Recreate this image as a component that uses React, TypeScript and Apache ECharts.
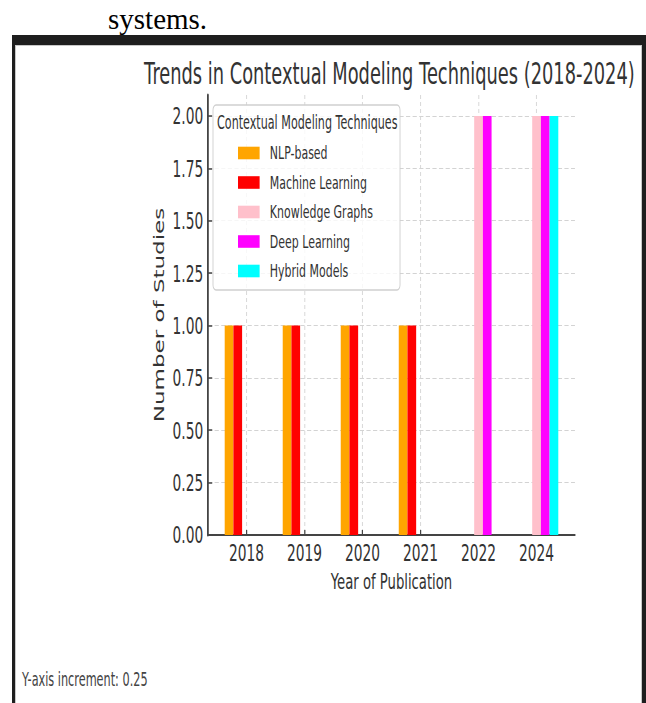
import React, { useEffect, useRef } from 'react';
import * as echarts from 'echarts';

// ---- data ----
const years = ['2018', '2019', '2020', '2021', '2022', '2024'];
const techniques = ['NLP-based', 'Machine Learning', 'Knowledge Graphs', 'Deep Learning', 'Hybrid Models'];
const nlpBased = [1, 1, 1, 1, 0, 0];
const machineLearning = [1, 1, 1, 1, 0, 0];
const knowledgeGraphs = [0, 0, 0, 0, 2, 2];
const deepLearning = [0, 0, 0, 0, 2, 2];
const hybridModels = [0, 0, 0, 0, 0, 2];
const seriesValues = [nlpBased, machineLearning, knowledgeGraphs, deepLearning, hybridModels];
const seriesColors = ['#FFA500', '#FF0000', '#FFC0CB', '#FF00FF', '#00FFFF'];
const yTicks = [0, 0.25, 0.5, 0.75, 1, 1.25, 1.5, 1.75, 2];
const xTickPositions = years.map((_, i) => i);

// ---- layout (virtual coordinates; the chart is squeezed horizontally) ----
const SQUEEZE = 0.6;
const VW = 1045;
const VH = 657;
const FONT = "'DejaVu Sans', 'Noto Sans', sans-serif";

function buildOption() {
  return {
    animation: false,
    backgroundColor: 'transparent',
    title: {
      text: 'Trends in Contextual Modeling Techniques (2018-2024)',
      left: 624,
      top: 13,
      textAlign: 'center',
      padding: 0,
      textStyle: { fontFamily: FONT, fontSize: 29.7, fontWeight: 'normal', color: '#333' },
    },
    grid: { left: 321.7, right: 111.7, top: 49, bottom: 168, containLabel: false, outerBoundsMode: 'none' },
    legend: {
      orient: 'vertical',
      left: 371.7,
      top: 98,
      padding: 0,
      icon: 'rect',
      itemWidth: 36,
      itemHeight: 12.6,
      itemGap: 11.5,
      selectedMode: false,
      data: techniques,
      itemStyle: { borderWidth: 0 },
      textStyle: { fontFamily: FONT, fontSize: 18.3, color: '#333', lineHeight: 18, padding: [0, 0, 0, 12] },
      z: 6,
    },
    xAxis: {
      type: 'value',
      min: -0.6625,
      max: 5.6625,
      name: 'Year of Publication',
      nameLocation: 'middle',
      nameGap: 35,
      nameTextStyle: { fontFamily: FONT, fontSize: 22, color: '#333' },
      axisLine: { show: true, onZero: false, lineStyle: { color: '#444', width: 2 } },
      axisTick: { show: true, inside: true, length: 5, customValues: xTickPositions, lineStyle: { color: '#444', width: 2 } },
      axisLabel: {
        customValues: xTickPositions,
        formatter: (v: number) => years[Math.round(v)],
        fontFamily: FONT,
        fontSize: 23,
        color: '#333',
        margin: 6,
      },
      splitLine: { show: true, lineStyle: { color: '#d4d4d4', type: [4, 3], width: 1.5 } },
    },
    yAxis: {
      type: 'value',
      min: 0,
      max: 2.1,
      name: 'Number of Studies',
      nameLocation: 'middle',
      nameGap: 63,
      nameTextStyle: { fontFamily: FONT, fontSize: 23, color: '#333' },
      axisLine: { show: true, onZero: false, lineStyle: { color: '#444', width: 3 } },
      axisTick: { show: true, inside: true, length: 7, customValues: yTicks, lineStyle: { color: '#444', width: 1.5 } },
      axisLabel: {
        customValues: yTicks,
        formatter: (v: number) => v.toFixed(2),
        fontFamily: FONT,
        fontSize: 23,
        color: '#333',
        margin: 8,
      },
      splitLine: { show: true, lineStyle: { color: '#c8c8c8', type: [7, 4], width: 1 } },
    },
    graphic: [
      {
        type: 'rect',
        z: 3,
        shape: { x: 330, y: 59, width: 311.7, height: 185, r: 5 },
        style: { fill: 'rgba(255,255,255,0.8)', stroke: '#cfcfcf', lineWidth: 1.5 },
      },
      {
        type: 'text',
        z: 5,
        x: 336.7,
        y: 77,
        style: {
          text: 'Contextual Modeling Techniques',
          fontFamily: FONT,
          fontSize: 18.6,
          fill: '#333',
          align: 'left',
          verticalAlign: 'middle',
          textAlign: 'left',
          textVerticalAlign: 'middle',
        },
      },
      {
        type: 'text',
        z: 5,
        x: 11.7,
        y: 634,
        style: {
          text: 'Y-axis increment: 0.25',
          fontFamily: FONT,
          fontSize: 18.8,
          fill: '#444',
          align: 'left',
          verticalAlign: 'middle',
          textAlign: 'left',
          textVerticalAlign: 'middle',
        },
      },
    ],
    series: techniques.map((name, s) => ({
      name,
      type: 'bar',
      barWidth: 14.5,
      barGap: '0%',
      itemStyle: { color: seriesColors[s], borderWidth: 0 },
      emphasis: { disabled: true },
      data: seriesValues[s].map((v, i) => [i, v]),
      z: 2,
    })),
  };
}

export default function App() {
  const ref = useRef<HTMLDivElement>(null);
  useEffect(() => {
    if (!ref.current) return;
    const chart = echarts.init(ref.current, null, { renderer: 'svg' });
    chart.setOption(buildOption() as any);
    return () => chart.dispose();
  }, []);
  return (
    <div style={{ position: 'fixed', left: 0, top: 0, width: 646, height: 703, overflow: 'hidden', background: '#fff' }}>
      <div
        style={{
          position: 'absolute',
          left: 108,
          top: 5,
          fontFamily: "'Liberation Serif', 'Times New Roman', serif",
          fontSize: 29,
          lineHeight: '29px',
          color: '#000',
          whiteSpace: 'nowrap',
        }}
      >
        systems.
      </div>
      <div style={{ position: 'absolute', left: 12, top: 35, width: 634, height: 668, background: '#1e1e1e' }} />
      <div
        style={{
          position: 'absolute',
          left: 15,
          top: 45,
          width: 627,
          height: 658,
          background: '#fff',
          borderTop: '1px solid #c8c8c8',
          borderLeft: '1px solid #c8c8c8',
          borderRight: '1px solid #c8c8c8',
          boxSizing: 'border-box',
        }}
      />
      <div style={{ position: 'absolute', left: 15, top: 46, width: 627, height: 657, overflow: 'hidden' }}>
        <div
          ref={ref}
          style={{ width: VW, height: VH, transform: `scaleX(${SQUEEZE})`, transformOrigin: '0 0' }}
        />
      </div>
    </div>
  );
}
